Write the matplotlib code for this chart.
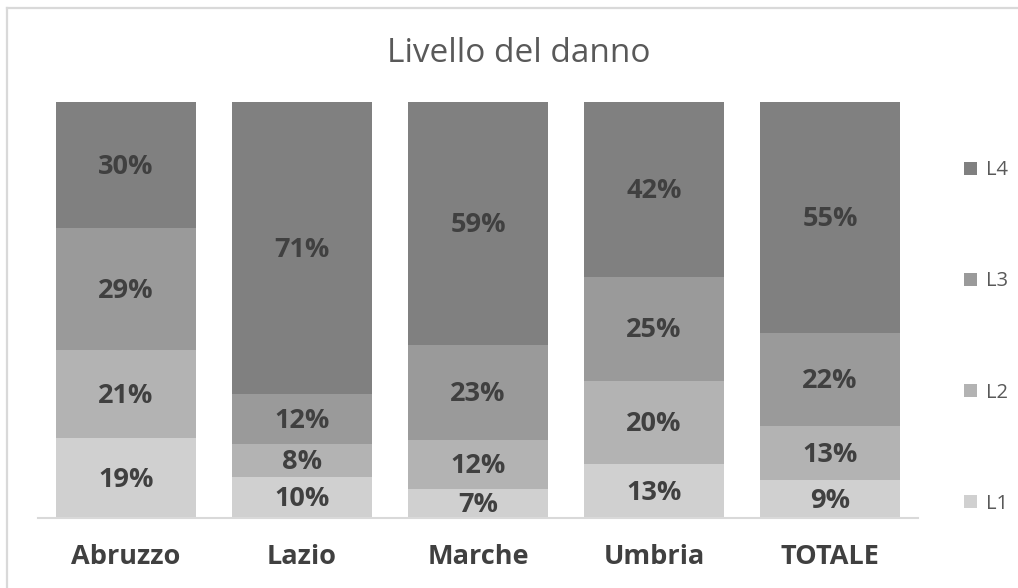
import matplotlib
matplotlib.use("Agg")
import matplotlib.pyplot as plt
from matplotlib.patches import Patch
from matplotlib.lines import Line2D
import numpy as np

categories = ["Abruzzo", "Lazio", "Marche", "Umbria", "TOTALE"]
L1 = [19, 10, 7, 13, 9]
L2 = [21, 8, 12, 20, 13]
L3 = [29, 12, 23, 25, 22]
L4 = [30, 71, 59, 42, 55]
series_names = ["L1", "L2", "L3", "L4"]
colors = ["#d0d0d0", "#b3b3b3", "#9a9a9a", "#808080"]

plt.rcParams['font.family'] = ['Open Sans', 'DejaVu Sans']

W, H = 1018, 588
fig = plt.figure(figsize=(W / 100, H / 100), dpi=100)
# chart-area border (only top and left edges visible in the crop)
fig.add_artist(Line2D([7 / W, 7 / W], [0, 1 - 8 / H], transform=fig.transFigure,
                      color="#d9d9d9", linewidth=1.6))
fig.add_artist(Line2D([7 / W, 1], [1 - 8 / H, 1 - 8 / H], transform=fig.transFigure,
                      color="#d9d9d9", linewidth=1.6))

ax = fig.add_axes([38 / W, 70 / H, 880 / W, 416 / H])
data = np.array([L1, L2, L3, L4], dtype=float)
totals = data.sum(axis=0)
frac = data / totals
x = np.arange(len(categories))
bottom = np.zeros(len(categories))
handles = []
for i, name in enumerate(series_names):
    ax.bar(x, frac[i], width=0.795, bottom=bottom, color=colors[i],
           edgecolor="none", label=name)
    handles.append(Patch(facecolor=colors[i], label=name))
    for j in range(len(categories)):
        ax.text(x[j], bottom[j] + frac[i][j] / 2 - 0.004, f"{int(data[i][j])}%",
                ha="center", va="center", fontsize=19.5, fontweight="bold",
                color="#404040")
    bottom += frac[i]

ax.set_xlim(-0.5, len(categories) - 0.5)
ax.set_ylim(0, 1)
ax.set_yticks([])
ax.set_xticks(x)
ax.set_xticklabels(categories, fontsize=19.5, fontweight="bold", color="#404040")
ax.tick_params(axis="x", length=0, pad=19)
for s in ["top", "right", "left"]:
    ax.spines[s].set_visible(False)
ax.spines["bottom"].set_color("#d9d9d9")
ax.spines["bottom"].set_linewidth(1.5)

fig.text(519 / W, 1 - 53 / H, "Livello del danno", ha="center", va="center",
         fontsize=24, color="#595959")

leg = fig.legend(handles=handles[::-1], loc="center left",
                 bbox_to_anchor=(946 / W, 1 - 337 / H), frameon=False,
                 fontsize=14.5, labelspacing=4.52, handlelength=0.62,
                 handleheight=0.62, handletextpad=0.45, labelcolor="#595959")

fig.savefig("out.png", dpi=100)
